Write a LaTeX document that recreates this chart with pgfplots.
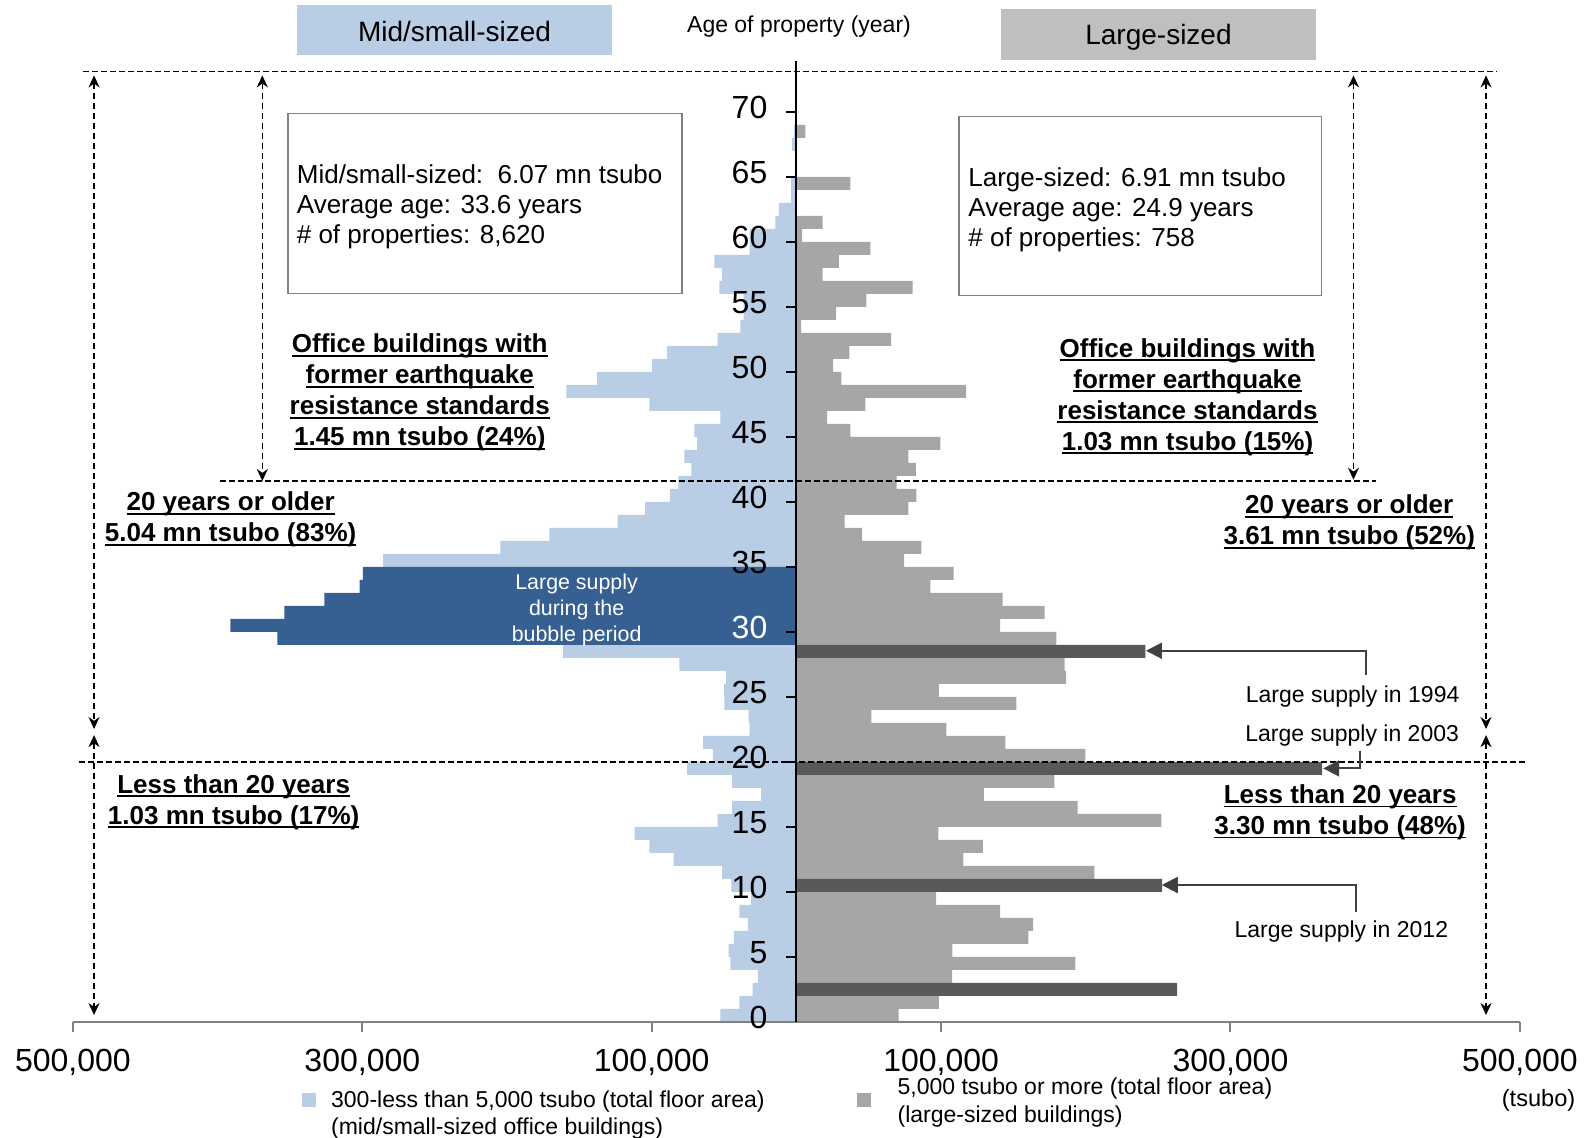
\documentclass[border=0pt]{standalone}
\usepackage{pgfplots}
\pgfplotsset{compat=1.18}
\usepackage{fontspec}
\setmainfont{Liberation Sans}
\usetikzlibrary{arrows.meta}

\definecolor{lblue}{HTML}{B9CDE5}
\definecolor{dblue}{HTML}{366092}
\definecolor{lgray}{HTML}{A6A6A6}
\definecolor{dgray}{HTML}{595959}
\definecolor{hgray}{HTML}{BFBFBF}
\definecolor{agray}{HTML}{404040}
\newcommand\fs[2]{\fontsize{#1}{#2}\selectfont}
% underline close to the baseline
\newcommand\ul[1]{\setbox0\hbox{#1}\rlap{\rule[-2pt]{\wd0}{0.9pt}}\box0}

\begin{document}
\begin{tikzpicture}
\begin{axis}[
  scale only axis, width=723.5pt, height=480.35pt,
  xmin=-500000, xmax=500000, ymin=0, ymax=73.9,
  axis x line=bottom, axis y line=center,
  x axis line style={-, gray, line width=1pt},
  y axis line style={-, black, line width=1pt},
  xtick={-500000,-300000,-100000,100000,300000,500000},
  xticklabels={{500,000},{300,000},{100,000},{100,000},{300,000},{500,000}},
  scaled x ticks=false,
  ytick={0,5,...,70},
  yticklabels={0,5,10,15,20,25,{\color{white}30},35,40,45,50,55,60,65,70},
  hide obscured y ticks=false,
  tick align=outside, major tick length=5pt,
  xtick style={gray, line width=1pt}, ytick style={black, line width=1pt},
  xticklabel style={font=\fs{16}{18}, yshift=-5pt},
  yticklabel style={font=\fs{16}{18}, xshift=-6pt, yshift=2.3pt},
  clip=false, axis on top,
]
% mid/small-sized (left, negative)
\addplot[xbar, bar shift=0pt, bar width=1, fill=lblue, draw=none] coordinates {
(-52500,0.5) (-39400,1.5) (-30200,2.5) (-26700,3.5) (-45600,4.5) (-46800,5.5)
(-43300,6.5) (-33600,7.5) (-39400,8.5) (-31300,9.5) (-45000,10.5) (-51400,11.5)
(-84800,12.5) (-101600,13.5) (-111800,14.5) (-54400,15.5) (-44500,16.5) (-24400,17.5)
(-44500,18.5) (-75600,19.5) (-57800,20.5) (-64500,21.5) (-32300,22.5) (-33000,23.5)
(-49800,24.5) (-50000,25.5) (-48600,26.5) (-80900,27.5) (-161200,28.5)
(-285600,35.5) (-204600,36.5) (-170700,37.5) (-123500,38.5) (-104600,39.5)
(-87500,40.5) (-81500,41.5) (-72600,42.5) (-77400,43.5) (-68600,44.5) (-70500,45.5)
(-52500,46.5) (-101700,47.5) (-159000,48.5) (-137800,49.5) (-99800,50.5) (-89400,51.5)
(-54400,52.5) (-38700,53.5) (-36400,54.5) (-36400,55.5) (-53200,56.5) (-51400,57.5)
(-56700,58.5) (-32300,59.5) (-32300,60.5) (-14500,61.5) (-12200,62.5) (-3600,63.5)
(-3600,64.5) (-3000,67.5) (-1500,68.5)
};
\addplot[xbar, bar shift=0pt, bar width=1, fill=dblue, draw=none] coordinates {
(-358700,29.5) (-391200,30.5) (-353800,31.5) (-326200,32.5) (-301800,33.5) (-299700,34.5)
};
% large-sized (right)
\addplot[xbar, bar shift=0pt, bar width=1, fill=lgray, draw=none] coordinates {
(70700,0.5) (98400,1.5) (107600,3.5) (192800,4.5) (107800,5.5) (160300,6.5)
(163600,7.5) (140800,8.5) (96500,9.5) (205900,11.5) (115400,12.5) (128800,13.5)
(98100,14.5) (252200,15.5) (194400,16.5) (129500,17.5) (178300,18.5) (199700,20.5)
(144400,21.5) (103700,22.5) (51800,23.5) (152000,24.5) (98400,25.5) (186400,26.5)
(185400,27.5) (179700,29.5) (140800,30.5) (171600,31.5) (142600,32.5) (92600,33.5)
(108700,34.5) (74400,35.5) (86400,36.5) (45400,37.5) (33400,38.5) (77400,39.5)
(82900,40.5) (69300,41.5) (82500,42.5) (77400,43.5) (99500,44.5) (37300,45.5)
(21200,46.5) (47700,47.5) (117300,48.5) (31100,49.5) (25300,50.5) (36600,51.5)
(65400,52.5) (3200,53.5) (27400,54.5) (48400,55.5) (80400,56.5) (18200,57.5)
(29300,58.5) (51100,59.5) (3900,60.5) (18200,61.5) (37300,64.5) (6200,68.5)
};
\addplot[xbar, bar shift=0pt, bar width=1, fill=dgray, draw=none] coordinates {
(263100,2.5) (252700,10.5) (363300,19.5) (241200,28.5)
};

% header
\fill[lblue] (axis cs:-345100,78.2) rectangle (axis cs:-127400,74.36);
\node[font=\fs{14}{16}] at (axis cs:-236250,76.2) {Mid/small-sized};
\fill[hgray] (axis cs:141400,77.9) rectangle (axis cs:359100,73.98);
\node[font=\fs{14}{16}] at (axis cs:250250,75.7) {Large-sized};
\node[font=\fs{11.5}{13}] at (axis cs:1800,76.52) {Age of property (year)};

% dashed guide lines
\begin{scope}[line width=0.8pt, dash pattern=on 3pt off 1.5pt]
\draw (axis cs:-493100,73.09) -- (axis cs:484100,73.09);
\draw (axis cs:-398400,41.6) -- (axis cs:400300,41.6);
\draw (axis cs:-495900,20) -- (axis cs:504800,20);
\end{scope}
\begin{scope}[line width=0.8pt, dash pattern=on 3pt off 2pt,
  {Stealth[length=6pt,width=5.5pt]}-{Stealth[length=6pt,width=5.5pt]}]
\draw (axis cs:-485400,72.8) -- (axis cs:-485400,22.52);
\draw (axis cs:-485400,22.05) -- (axis cs:-485400,0.52);
\draw (axis cs:476600,72.8) -- (axis cs:476600,22.52);
\draw (axis cs:476600,22.05) -- (axis cs:476600,0.52);
\draw (axis cs:-369100,72.8) -- (axis cs:-369100,41.6);
\draw (axis cs:385000,72.8) -- (axis cs:385000,41.7);
\end{scope}

% info boxes
\draw[gray, line width=0.75pt] (axis cs:-351200,69.88) rectangle (axis cs:-79200,56.03);
\node[anchor=west, align=left, inner sep=0pt, font=\fs{13}{15.2}] at (axis cs:-345500,62.69)
  {Mid/small-sized:\ \ 6.07 mn tsubo\\Average age: 33.6 years\\\# of properties: 8,620};
\draw[gray, line width=0.75pt] (axis cs:112300,69.65) rectangle (axis cs:362900,55.87);
\node[anchor=west, align=left, inner sep=0pt, font=\fs{13}{15.2}] at (axis cs:118600,62.46)
  {Large-sized: 6.91 mn tsubo\\Average age: 24.9 years\\\# of properties: 758};

% bold underlined labels
\begin{scope}[every node/.style={align=center, font=\bfseries\fs{13}{15.5}}]
\node at (axis cs:-260300,48.39) {\ul{Office buildings with}\\\ul{former earthquake}\\\ul{resistance standards}\\\ul{1.45 mn tsubo (24\%)}};
\node at (axis cs:270300,48.07) {\ul{Office buildings with}\\\ul{former earthquake}\\\ul{resistance standards}\\\ul{1.03 mn tsubo (15\%)}};
\node at (axis cs:-391000,38.62) {\ul{20 years or older}\\\ul{5.04 mn tsubo (83\%)}};
\node at (axis cs:382100,38.39) {\ul{20 years or older}\\\ul{3.61 mn tsubo (52\%)}};
\node at (axis cs:-388900,16.91) {\ul{Less than 20 years}\\\ul{1.03 mn tsubo (17\%)}};
\node at (axis cs:375800,16.13) {\ul{Less than 20 years}\\\ul{3.30 mn tsubo (48\%)}};
\end{scope}

\node[white, align=center, font=\fs{10.7}{12.9}] at (axis cs:-151900,31.68)
  {Large supply\\during the\\bubble period};

% supply annotations
\begin{scope}[agray, line width=1pt, -{Triangle[length=8pt,width=8pt]}]
\draw (axis cs:393400,26.67) -- (axis cs:393400,28.54) -- (axis cs:241600,28.54);
\draw (axis cs:389500,20.85) -- (axis cs:389500,19.49) -- (axis cs:364100,19.49);
\draw (axis cs:386500,8.46) -- (axis cs:386500,10.52) -- (axis cs:252500,10.52);
\end{scope}
\node[font=\fs{11.5}{13}] at (axis cs:384400,25.0) {Large supply in 1994};
\node[font=\fs{11.5}{13}] at (axis cs:384100,22.05) {Large supply in 2003};
\node[font=\fs{11.5}{13}] at (axis cs:376600,6.92) {Large supply in 2012};

% legend
\fill[lblue] (axis cs:-341640,-5.48) rectangle (axis cs:-331960,-6.56);
\node[anchor=west, inner sep=0pt, font=\fs{11.5}{13}] at (axis cs:-321800,-6.15) {300-less than 5,000 tsubo (total floor area)};
\node[anchor=west, inner sep=0pt, font=\fs{11.5}{13}] at (axis cs:-321800,-8.18) {(mid/small-sized office buildings)};
\fill[lgray] (axis cs:41860,-5.48) rectangle (axis cs:51540,-6.56);
\node[anchor=west, inner sep=0pt, font=\fs{11.5}{13}] at (axis cs:69700,-5.1) {5,000 tsubo or more (total floor area)};
\node[anchor=west, inner sep=0pt, font=\fs{11.5}{13}] at (axis cs:69700,-7.3) {(large-sized buildings)};
\node[font=\fs{11.8}{13}] at (axis cs:512900,-6.02) {(tsubo)};

\coordinate (BL) at (axis cs:-550400,-8.87);
\coordinate (TR) at (axis cs:545700,78.6);
\end{axis}
\pgfresetboundingbox
\path[use as bounding box] (BL) rectangle (TR);
\end{tikzpicture}
\end{document}
